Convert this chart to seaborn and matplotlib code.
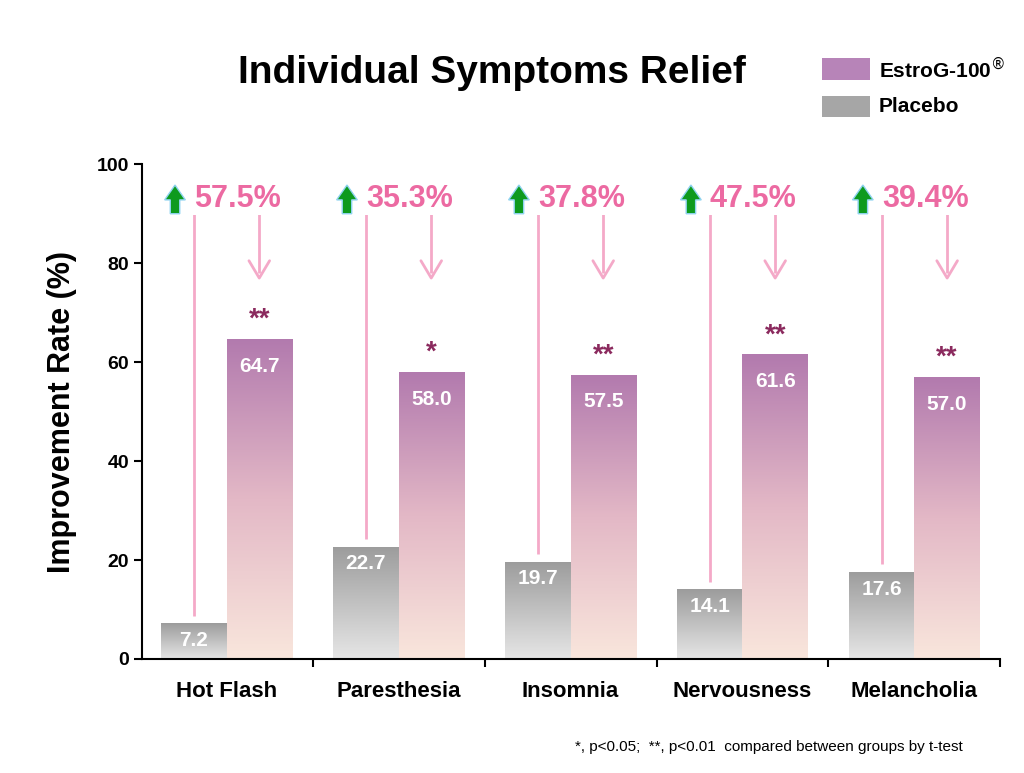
import matplotlib
matplotlib.use("Agg")
import matplotlib.pyplot as plt
import seaborn as sns
import numpy as np
import pandas as pd
from matplotlib.patches import FancyArrow

categories = ["Hot Flash", "Paresthesia", "Insomnia", "Nervousness", "Melancholia"]
placebo = [7.2, 22.7, 19.7, 14.1, 17.6]
estrog = [64.7, 58.0, 57.5, 61.6, 57.0]
signif = ["**", "*", "**", "**", "**"]
increase = ["57.5%", "35.3%", "37.8%", "47.5%", "39.4%"]

sns.set_theme(style="white")
plt.rcParams['font.family'] = ['Liberation Sans', 'DejaVu Sans']
plt.rcParams['text.color'] = 'black'
plt.rcParams['axes.labelcolor'] = 'black'
plt.rcParams['xtick.color'] = 'black'
plt.rcParams['ytick.color'] = 'black'

df = pd.DataFrame({"cat": categories * 2,
                   "val": placebo + estrog,
                   "grp": ["Placebo"] * 5 + ["EstroG-100"] * 5})

fig = plt.figure(figsize=(10.24, 7.73), dpi=100)
ax = fig.add_axes([0.139, 0.1475, 0.838, 0.640])
sns.barplot(data=df, x="cat", y="val", hue="grp", hue_order=["Placebo", "EstroG-100"],
            width=0.76, ax=ax, legend=False, errorbar=None)
ax.set_xlim(-0.49, 4.5)
ax.set_ylim(0, 100)

cmap_pl = matplotlib.colors.LinearSegmentedColormap.from_list("pl", ["#e6e6e6", "#9c9c9c"])
cmap_es = matplotlib.colors.LinearSegmentedColormap.from_list("es", ["#f9e6dc", "#e3b8c6", "#b27aae"])
for i, p in enumerate(ax.patches[:10]):
    x0 = p.get_x()
    w, h = p.get_width(), p.get_height()
    cm = cmap_pl if i < 5 else cmap_es
    grad = np.linspace(0, 1, 256).reshape(-1, 1)
    im = ax.imshow(grad, cmap=cm, origin="lower", aspect="auto",
                   extent=[x0, x0 + w, 0, h], zorder=2)
    im.set_clip_path(p)
    p.set_facecolor("none")
    p.set_edgecolor("none")

pink = "#f4a9c8"
for i in range(5):
    xp = i - 0.19
    xe = i + 0.19
    ax.text(xp, placebo[i] - 3.5, f"{placebo[i]:.1f}", ha="center", va="center",
            color="white", fontsize=15, fontweight="bold", zorder=5)
    ax.text(xe, estrog[i] - 5.5, f"{estrog[i]:.1f}", ha="center", va="center",
            color="white", fontsize=15, fontweight="bold", zorder=5)
    ax.text(xe, estrog[i] + 1.2, signif[i], ha="center", va="bottom",
            color="#8b2a5e", fontsize=20, fontweight="bold", zorder=5)
    ytop = 94
    yend = 77
    ax.plot([xp, xp, xe, xe], [placebo[i] + 1.5, ytop, ytop, yend + 1.0],
            color=pink, lw=2, zorder=4, solid_capstyle="butt")
    ax.plot([xe - 0.06, xe, xe + 0.06], [yend + 3.5, yend, yend + 3.5],
            color=pink, lw=2, zorder=4)
    ax.add_patch(FancyArrow(i - 0.3, 90, 0, 5.8, width=0.055, head_width=0.12,
                            head_length=3.0, length_includes_head=True,
                            facecolor="#0e9a1e", edgecolor="#8fd3f0", lw=1,
                            zorder=6, clip_on=False))
    ax.text(i - 0.19, 93, increase[i], ha="left", va="center", color="#ec6aa2",
            fontsize=22, fontweight="bold", zorder=5,
            bbox=dict(facecolor="white", edgecolor="none", pad=1))

ax.set_xlabel("")
ax.set_ylabel("Improvement Rate (%)", fontsize=22, fontweight="bold", labelpad=14)
ax.set_yticks([0, 20, 40, 60, 80, 100])
ax.tick_params(axis="y", labelsize=14, left=True, length=6, width=1.5, color="black")
ax.tick_params(axis="x", labelsize=16, bottom=False, pad=10)
for lab in ax.get_yticklabels():
    lab.set_fontweight("bold")
for lab in ax.get_xticklabels():
    lab.set_fontweight("bold")
ax.set_xticks([0.5, 1.5, 2.5, 3.5, 4.5], minor=True)
ax.tick_params(axis="x", which="minor", bottom=True, length=6, width=1.5, color="black")
for s in ["top", "right"]:
    ax.spines[s].set_visible(False)
for s in ["left", "bottom"]:
    ax.spines[s].set_color("black")
    ax.spines[s].set_linewidth(1.5)

fig.text(0.48, 0.905, "Individual Symptoms Relief", ha="center", va="center",
         fontsize=28, fontweight="bold")
fig.patches.append(matplotlib.patches.Rectangle((0.803, 0.897), 0.047, 0.028,
                   transform=fig.transFigure, facecolor="#b784b8", edgecolor="none"))
fig.patches.append(matplotlib.patches.Rectangle((0.803, 0.848), 0.047, 0.028,
                   transform=fig.transFigure, facecolor="#a6a6a6", edgecolor="none"))
fig.text(0.858, 0.911, "EstroG-100$^{\\circledR}$", ha="left", va="center", fontsize=15, fontweight="bold")
fig.text(0.858, 0.862, "Placebo", ha="left", va="center", fontsize=15, fontweight="bold")
fig.text(0.94, 0.033, "*, p<0.05;  **, p<0.01  compared between groups by t-test",
         ha="right", va="center", fontsize=11)

fig.savefig("out.png", dpi=100)
